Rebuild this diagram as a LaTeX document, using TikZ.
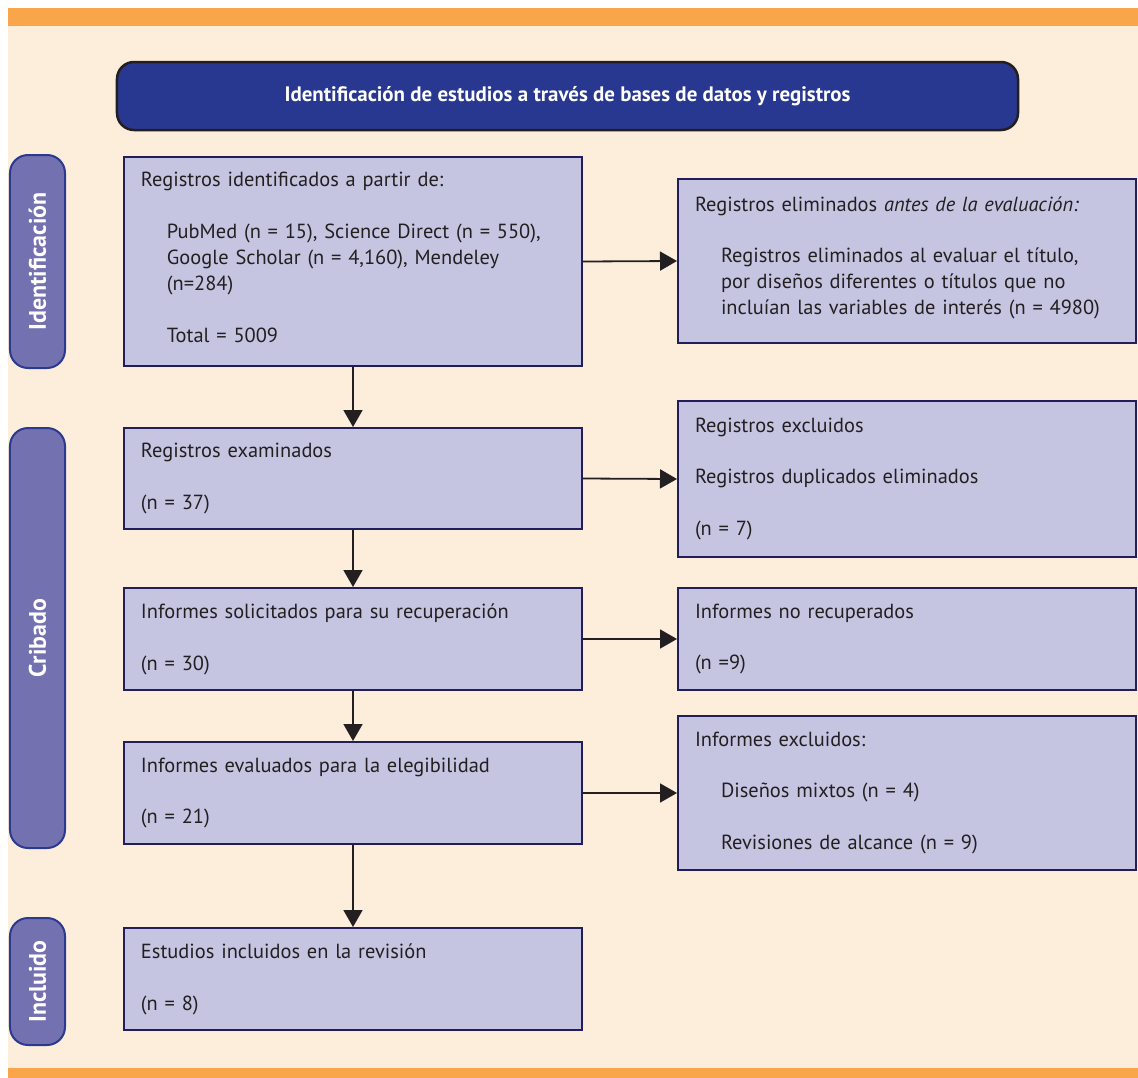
\documentclass[tikz,border=0pt]{standalone}
\usepackage{fontspec}
\setmainfont{PT Sans}
\usetikzlibrary{arrows.meta}
\definecolor{orangebar}{HTML}{F9A54A}
\definecolor{beige}{HTML}{FDEEDC}
\definecolor{hdrblue}{HTML}{283891}
\definecolor{sidefill}{HTML}{7371B0}
\definecolor{sideborder}{HTML}{2B3990}
\definecolor{boxfill}{HTML}{C5C5E2}
\definecolor{boxborder}{HTML}{221E5C}
\definecolor{ink}{HTML}{231F20}
\tikzset{
  flowbox/.style={draw=boxborder, line width=2bp, fill=boxfill, minimum width=458bp,
    text width=424bp, inner xsep=17bp, inner ysep=0pt, align=left, text=ink,
    font=\fontsize{20.5}{26}\selectfont},
  sidelabel/.style={draw=sideborder, line width=2bp, fill=sidefill, rounded corners=18bp,
    rotate=90, minimum height=55bp, inner sep=0pt, text=white,
    font=\bfseries\fontsize{24}{28}\selectfont},
  hdr/.style={draw=ink, line width=2.5bp, fill=hdrblue, rounded corners=17bp,
    minimum width=901bp, minimum height=68bp, inner sep=0pt, text=white,
    font=\bfseries\fontsize{21}{24}\selectfont},
  arr/.style={draw=ink, line width=1.8bp, -{Triangle[length=17bp,width=19bp]}},
}
\newcommand{\ind}{\hspace*{26bp}}
\newcommand{\lowstrut}[1]{\rule[-#1]{0pt}{1bp}}
\begin{document}
\begin{tikzpicture}[x=1bp,y=-1bp]
  \useasboundingbox (0,0) rectangle (1138,1078);
  \fill[white] (0,0) rectangle (1138,1078);
  \fill[beige] (8,26) rectangle (1138,1068);
  \fill[orangebar] (8,8) rectangle (1138,26);
  \fill[orangebar] (8,1068) rectangle (1138,1078);

  \node[hdr] (hdr) at (567.5,96) {Identificación de estudios a través de bases de datos y registros};

  \node[sidelabel, minimum width=213bp] (sid) at (37.5,261.5) {Identificación};
  \node[sidelabel, minimum width=420bp] (scr) at (37.5,638) {Cribado};
  \node[sidelabel, minimum width=127bp] (sin) at (37.5,981.5) {Incluido};

  \node[flowbox, minimum height=209bp] (b1) at (353,261.5) {Registros identificados a partir de:\\[26bp]
    \ind PubMed (n = 15), Science Direct (n = 550),\\
    \ind Google Scholar (n = 4,160), Mendeley\\
    \ind (n=284)\\[26bp]
    \ind Total = 5009\lowstrut{8bp}};
  \node[flowbox, minimum height=164bp] (r1) at (907,261) {Registros eliminados \textit{antes de la evaluación:}\\[26bp]
    \ind Registros eliminados al evaluar el título,\\
    \ind por diseños diferentes o títulos que no\\
    \ind incluían las variables de interés (n = 4980)\lowstrut{11bp}};

  \node[flowbox, minimum height=101bp] (b2) at (353,478.5) {Registros examinados\\[26bp](n = 37)};
  \node[flowbox, minimum height=156bp] (r2) at (907,479) {Registros excluidos\\[26bp]Registros duplicados eliminados\\[26bp](n = 7)};

  \node[flowbox, minimum height=102bp] (b3) at (353,639) {Informes solicitados para su recuperación\\[26bp](n = 30)};
  \node[flowbox, minimum height=102bp] (r3) at (907,639) {Informes no recuperados\\[26bp](n =9)};

  \node[flowbox, minimum height=102bp] (b4) at (353,793) {Informes evaluados para la elegibilidad\\[26bp](n = 21)};
  \node[flowbox, minimum height=154bp] (r4) at (907,793) {Informes excluidos:\\[26bp]
    \ind Diseños mixtos (n = 4)\\[26bp]
    \ind Revisiones de alcance (n = 9)};

  \node[flowbox, minimum height=102bp] (b5) at (353,979) {Estudios incluidos en la revisión\\[26bp](n = 8)};

  \draw[arr] (b1.east) -- (r1.west);
  \draw[arr] (b2.east) -- (r2.west);
  \draw[arr] (b3.east) -- (r3.west);
  \draw[arr] (b4.east) -- (r4.west);
  \draw[arr] (b1.south) -- (b2.north);
  \draw[arr] (b2.south) -- (b3.north);
  \draw[arr] (b3.south) -- (b4.north);
  \draw[arr] (b4.south) -- (b5.north);
\end{tikzpicture}
\end{document}
